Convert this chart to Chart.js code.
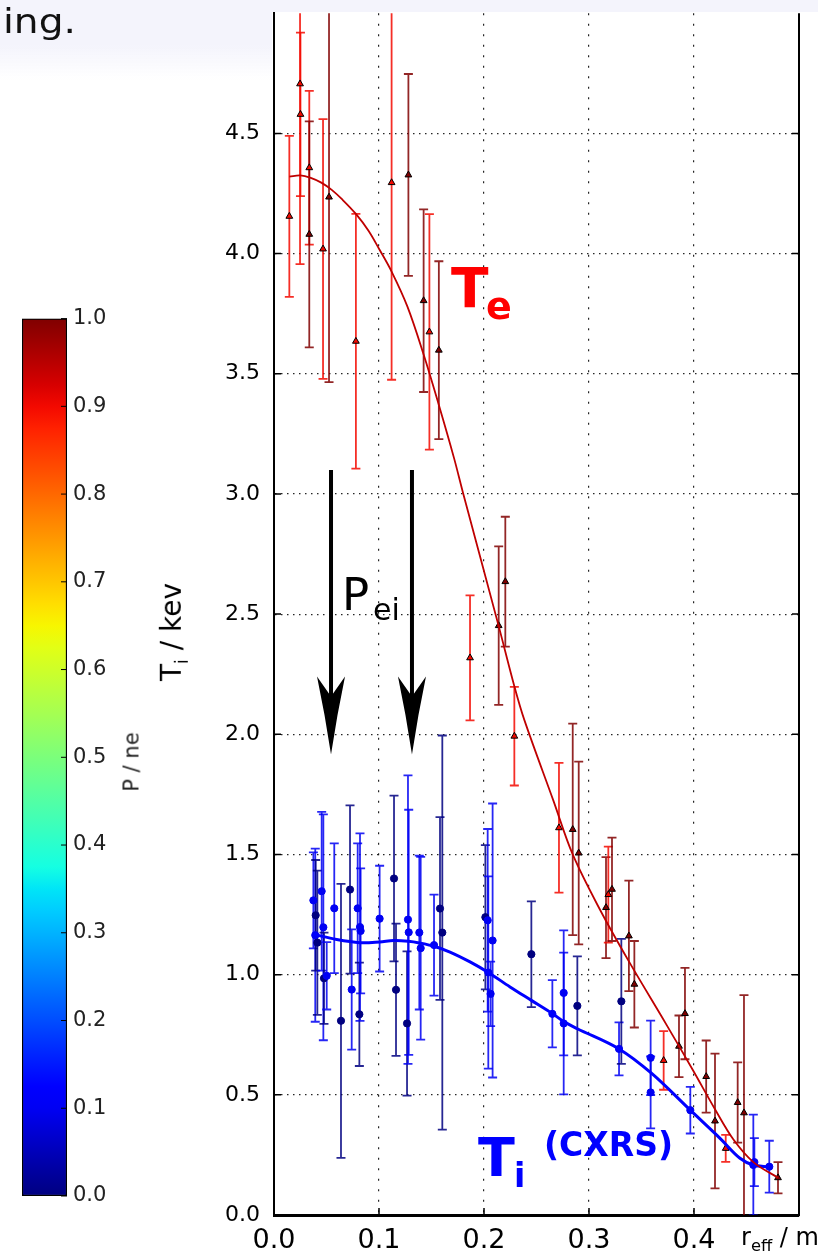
<!DOCTYPE html>
<html>
<head>
<meta charset="utf-8">
<script src="https://cdn.jsdelivr.net/npm/chart.js"></script>
<style>
body{margin:0;background:#fff;width:818px;height:1260px;overflow:hidden;position:relative;font-family:"DejaVu Sans",sans-serif;}
canvas{position:absolute;}
#main{left:150px;top:0;}
#cbar{left:0;top:300px;}
.band{position:absolute;z-index:2;}
.t{position:absolute;white-space:nowrap;line-height:1;z-index:3;}
.rot{transform:translate(-50%,-50%) rotate(-90deg);}
</style>
</head>
<body>
<canvas id="main" width="668" height="1260"></canvas>
<canvas id="cbar" width="140" height="920"></canvas>
<div class="band" style="left:0;top:0;width:818px;height:12px;background:#f4f4fc"></div>
<div class="band" style="left:0;top:0;width:272px;height:80px;background:linear-gradient(to bottom,#f4f4fc 0,#f4f4fc 45px,rgba(255,255,255,0) 80px)"></div>

<div class="t" style="left:3px;top:4px;font-size:34px;color:#111;transform:scaleX(1.15);transform-origin:left">ing.</div>
<div class="t rot" style="left:174px;top:632px;font-size:28px;color:#000">T<sub style="font-size:60%">i</sub> / kev</div>
<div class="t rot" style="left:132px;top:762px;font-size:21px;color:#222">P / ne</div>
<div class="t" style="left:741px;top:1225px;font-size:24px;color:#000">r<sub style="font-size:68%">eff</sub> / m</div>

<div class="t" style="left:451px;top:261px;font-size:55px;font-weight:bold;color:#ff0000">T</div>
<div class="t" style="left:486px;top:287px;font-size:38px;font-weight:bold;color:#ff0000">e</div>
<div class="t" style="left:342px;top:572px;font-size:45px;color:#000">P</div>
<div class="t" style="left:373px;top:595px;font-size:30px;color:#000">ei</div>
<div class="t" style="left:478px;top:1131px;font-size:54px;font-weight:bold;color:#0000ff">T</div>
<div class="t" style="left:514px;top:1159px;font-size:33px;font-weight:bold;color:#0000ff">i</div>
<div class="t" style="left:544px;top:1128px;font-size:33px;font-weight:bold;color:#0000ff">(CXRS)</div>

<script>
// =====================
// DATA
// =====================

// electron temperature (triangles)
const teR   = [0.0146,0.0248,0.0252,0.0336,0.0336,0.0467,0.0524,0.078,0.112,0.128,0.1425,0.148,0.157,0.1867,0.214,0.2203,0.2289,0.2714,0.2845,0.2902,0.3162,0.3184,0.3219,0.338,0.3432,0.3711,0.3857,0.3914,0.4116,0.42,0.4302,0.4416,0.4476,0.48];
const teT   = [4.155,4.706,4.579,4.357,4.08,4.019,4.235,3.635,4.295,4.327,3.804,3.674,3.598,2.318,2.452,2.635,1.992,1.611,1.604,1.506,1.279,1.333,1.355,1.161,0.96,0.643,0.702,0.838,0.576,0.391,0.277,0.468,0.425,0.155];
const teErr = [0.335,0.75,0.34,0.32,0.47,0.54,0.77,0.53,0.82,0.42,0.38,0.49,0.37,0.26,0.33,0.27,0.205,0.27,0.44,0.38,0.21,0.2,0.215,0.23,0.18,0.122,0.128,0.19,0.15,0.28,0.056,0.167,0.49,0.065];
const teP   = [0.9,0.9,0.9,0.9,1,0.9,1,0.9,0.9,1,1,0.9,1,0.9,1,1,0.9,0.9,1,1,1,0.9,1,1,1,0.9,1,1,1,1,0.9,1,1,1];

// ion temperature CXRS (circles)
const tiR   = [0.0375,0.0393,0.0397,0.0413,0.0454,0.047,0.0476,0.0502,0.0574,0.0638,0.0724,0.074,0.0797,0.0813,0.0819,0.0825,0.1006,0.1143,0.1162,0.1267,0.1276,0.1283,0.1384,0.1397,0.1524,0.1581,0.1603,0.2013,0.2035,0.2041,0.2063,0.2082,0.2451,0.2651,0.2759,0.2759,0.2889,0.3286,0.3308,0.3587,0.3587,0.3965,0.4565,0.4575,0.4717];
const tiT   = [1.309,1.164,1.247,1.133,1.347,1.197,0.985,0.995,1.276,0.808,1.354,0.938,1.276,0.835,1.198,1.182,1.233,1.40,0.937,0.797,1.229,1.176,1.175,1.11,1.123,1.275,1.175,1.239,1.226,1.009,0.92,1.142,1.085,0.837,0.924,0.797,0.87,0.691,0.889,0.654,0.51,0.436,0.208,0.22,0.201];
const tiErr = [0.2,0.36,0.23,0.3,0.33,0.47,0.19,0.14,0.27,0.57,0.35,0.25,0.27,0.215,0.39,0.26,0.22,0.345,0.275,0.3,0.6,0.51,0.32,0.38,0.21,0.38,0.82,0.3,0.38,0.4,0.134,0.57,0.22,0.14,0.26,0.295,0.206,0.11,0.26,0.155,0.15,0.097,0.21,0.1,0.108];
const tiP   = [0.1,0.1,0,0,0.1,0.1,0,0.1,0.1,0,0,0.1,0.1,0,0.1,0.1,0.1,0,0,0,0.1,0.1,0.1,0.1,0.1,0,0,0,0.1,0.1,0.1,0.1,0,0.1,0.1,0.1,0,0.1,0,0.1,0.1,0.1,0.1,0.1,0.1];

// fitted profiles
const teFitR = [0.0146,0.025,0.035,0.045,0.055,0.065,0.078,0.09,0.1,0.112,0.127,0.1425,0.157,0.1714,0.1803,0.214,0.2289,0.2384,0.266,0.2845,0.3105,0.338,0.374,0.3993,0.42,0.4374,0.4565,0.48];
const teFitT = [4.32,4.325,4.315,4.295,4.265,4.225,4.165,4.095,4.02,3.925,3.78,3.58,3.37,3.15,3.0,2.45,2.2,2.06,1.725,1.5,1.27,1.055,0.79,0.6,0.44,0.315,0.22,0.155];
const tiFitR = [0.0375,0.0597,0.0819,0.1006,0.114,0.128,0.1384,0.1524,0.1676,0.1867,0.2041,0.2248,0.2451,0.2651,0.2759,0.2889,0.3286,0.3597,0.3965,0.4248,0.4438,0.4565,0.4717];
const tiFitT = [1.168,1.146,1.133,1.136,1.142,1.139,1.132,1.118,1.094,1.053,1.009,0.949,0.893,0.838,0.805,0.775,0.691,0.589,0.436,0.319,0.236,0.208,0.2];

// P_ei arrows
const arrowR = [0.0543,0.1314];
const arrowFrom = 3.1;
const arrowTo = 1.916;

// axes
const xMin = 0, xMax = 0.5, xStep = 0.1;
const yMin = 0, yMax = 5, yStep = 0.5;
const cbStep = 0.1;


// =====================
// COLOURS (jet)
// =====================

const jetR = [[0,0],[0.35,0],[0.66,1],[0.89,1],[1,0.5]];
const jetG = [[0,0],[0.125,0],[0.375,1],[0.64,1],[0.91,0],[1,0]];
const jetB = [[0,0.5],[0.11,1],[0.34,1],[0.65,0],[1,0]];

function seg(t,pts){
  for(let i=1;i<pts.length;i++){
    if(t<=pts[i][0]){
      const [x0,y0]=pts[i-1],[x1,y1]=pts[i];
      return y0+(y1-y0)*(t-x0)/(x1-x0);
    }
  }
  return pts[pts.length-1][1];
}
function jet(t,a=1){
  return `rgba(${Math.round(255*seg(t,jetR))},${Math.round(255*seg(t,jetG))},${Math.round(255*seg(t,jetB))},${a})`;
}

const pts = (R,T) => R.map((r,i)=>({x:r,y:T[i]}));


// =====================
// PLUGINS
// =====================

const errorBars = {
  id:"errorBars",
  beforeDatasetsDraw(chart){
    const {ctx, chartArea:a, scales:{x,y}} = chart;
    ctx.save();
    ctx.beginPath();
    ctx.rect(a.left,a.top,a.right-a.left,a.bottom-a.top);
    ctx.clip();
    const draw = (R,T,E,P,w)=>{
      R.forEach((r,i)=>{
        const px = x.getPixelForValue(r);
        const y1 = y.getPixelForValue(T[i]+E[i]);
        const y2 = y.getPixelForValue(T[i]-E[i]);
        ctx.strokeStyle = jet(P[i],0.85);
        ctx.lineWidth = w;
        ctx.beginPath();
        ctx.moveTo(px,y1); ctx.lineTo(px,y2);
        ctx.moveTo(px-4.5,y1); ctx.lineTo(px+4.5,y1);
        ctx.moveTo(px-4.5,y2); ctx.lineTo(px+4.5,y2);
        ctx.stroke();
      });
    };
    draw(teR,teT,teErr,teP,1.8);
    draw(tiR,tiT,tiErr,tiP,1.8);
    ctx.restore();
  }
};

const arrows = {
  id:"arrows",
  afterDatasetsDraw(chart){
    const {ctx, scales:{x,y}} = chart;
    ctx.save();
    ctx.fillStyle = "#000";
    ctx.strokeStyle = "#000";
    arrowR.forEach(r=>{
      const px = x.getPixelForValue(r);
      const y0 = y.getPixelForValue(arrowFrom);
      const y1 = y.getPixelForValue(arrowTo);
      ctx.lineWidth = 4;
      ctx.beginPath();
      ctx.moveTo(px,y0); ctx.lineTo(px,y1-50);
      ctx.stroke();
      ctx.beginPath();
      ctx.moveTo(px,y1);
      ctx.quadraticCurveTo(px-6,y1-40,px-14,y1-78);
      ctx.lineTo(px,y1-58);
      ctx.lineTo(px+14,y1-78);
      ctx.quadraticCurveTo(px+6,y1-40,px,y1);
      ctx.fill();
    });
    ctx.restore();
  }
};

// right spine + inward ticks
const frame = {
  id:"frame",
  afterDraw(chart){
    const {ctx, chartArea:a, scales:{x,y}} = chart;
    ctx.save();
    ctx.strokeStyle = "#000";
    ctx.lineWidth = 2;
    ctx.beginPath();
    ctx.moveTo(a.right,a.top); ctx.lineTo(a.right,a.bottom+1);
    ctx.stroke();
    ctx.lineWidth = 1.5;
    ctx.beginPath();
    y.ticks.forEach(t=>{
      if(t.value>4.75) return;
      const py = y.getPixelForValue(t.value);
      ctx.moveTo(a.left,py); ctx.lineTo(a.left+7,py);
      ctx.moveTo(a.right,py); ctx.lineTo(a.right-7,py);
    });
    x.ticks.forEach(t=>{
      const px = x.getPixelForValue(t.value);
      ctx.moveTo(px,a.bottom); ctx.lineTo(px,a.bottom-7);
    });
    ctx.stroke();
    ctx.restore();
  }
};

const cbTicks = {
  id:"cbTicks",
  afterDraw(chart){
    const {ctx, chartArea:a, scales:{y}} = chart;
    ctx.save();
    ctx.strokeStyle = "#000";
    ctx.lineWidth = 1;
    ctx.beginPath();
    y.ticks.forEach(t=>{
      const py = y.getPixelForValue(t.value);
      ctx.moveTo(a.right,py); ctx.lineTo(a.right-6,py);
    });
    ctx.stroke();
    ctx.restore();
  }
};


// =====================
// MAIN CHART
// =====================

const gridCol = (lo,hi) => c => (c.tick && (c.tick.value<lo || c.tick.value>hi)) ? "rgba(0,0,0,0)" : "rgba(0,0,0,0.85)";

new Chart(document.getElementById("main"), {
  type:"scatter",
  data:{
    datasets:[
      {
        label:"Te fit",
        data:pts(teFitR,teFitT),
        showLine:true,
        borderColor:"#bf0000",
        borderWidth:1.8,
        pointRadius:0,
        tension:0.35
      },
      {
        label:"Ti fit",
        data:pts(tiFitR,tiFitT),
        showLine:true,
        borderColor:"#0000ff",
        borderWidth:3,
        pointRadius:0,
        tension:0.35
      },
      {
        label:"Te",
        data:pts(teR,teT),
        pointStyle:"triangle",
        pointRadius:3.9,
        backgroundColor:teP.map(p=>jet(p)),
        borderColor:"#000",
        borderWidth:1
      },
      {
        label:"Ti (CXRS)",
        data:pts(tiR,tiT),
        pointStyle:"circle",
        pointRadius:3.6,
        backgroundColor:tiP.map(p=>jet(p)),
        borderColor:tiP.map(p=>jet(p)),
        borderWidth:1
      }
    ]
  },
  options:{
    responsive:false,
    animation:false,
    layout:{padding:{top:12.5,right:19,left:0,bottom:0}},
    plugins:{legend:{display:false},tooltip:{enabled:false}},
    scales:{
      x:{
        type:"linear", min:xMin, max:xMax,
        ticks:{stepSize:xStep, color:"#000", font:{family:"DejaVu Sans",size:27}, padding:0,
          callback:v=> v>0.45 ? "" : v.toFixed(1)},
        grid:{color:gridCol(0.05,0.45), lineWidth:1.2, drawTicks:true, tickLength:10, tickColor:"rgba(0,0,0,0)"},
        border:{color:"#000", width:3, dash:[2,8.5]},
        afterFit:s=>{s.height=45;}
      },
      y:{
        type:"linear", min:yMin, max:yMax,
        ticks:{stepSize:yStep, color:"#000", font:{family:"DejaVu Sans",size:22}, padding:0,
          callback:v=> v>4.75 ? "" : v.toFixed(1)},
        grid:{color:gridCol(0.25,4.75), lineWidth:1.2, drawTicks:true, tickLength:14, tickColor:"rgba(0,0,0,0)"},
        border:{color:"#000", width:2, dash:[1.5,4.5]},
        afterFit:s=>{s.width=124;}
      }
    }
  },
  plugins:[errorBars,arrows,frame]
});


// =====================
// COLOURBAR
// =====================

new Chart(document.getElementById("cbar"), {
  type:"bar",
  data:{
    labels:["P / ne"],
    datasets:[{
      data:[[0,1]],
      backgroundColor:c=>{
        const a = c.chart.chartArea;
        if(!a) return "#888";
        const g = c.chart.ctx.createLinearGradient(0,a.bottom,0,a.top);
        for(let i=0;i<=40;i++) g.addColorStop(i/40, jet(i/40));
        return g;
      },
      borderColor:"#000",
      borderWidth:1.5,
      borderSkipped:false,
      barPercentage:1,
      categoryPercentage:1
    }]
  },
  options:{
    responsive:false,
    animation:false,
    layout:{padding:{left:22,top:18,bottom:24,right:0}},
    plugins:{legend:{display:false},tooltip:{enabled:false}},
    scales:{
      x:{display:false},
      y:{
        position:"right", min:0, max:1,
        ticks:{stepSize:cbStep, color:"#222", font:{family:"DejaVu Sans",size:21}, padding:6,
          callback:v=>v.toFixed(1)},
        grid:{display:false, drawTicks:false},
        border:{display:false},
        afterFit:s=>{s.width=73;}
      }
    }
  },
  plugins:[cbTicks]
});
</script>
</body>
</html>
